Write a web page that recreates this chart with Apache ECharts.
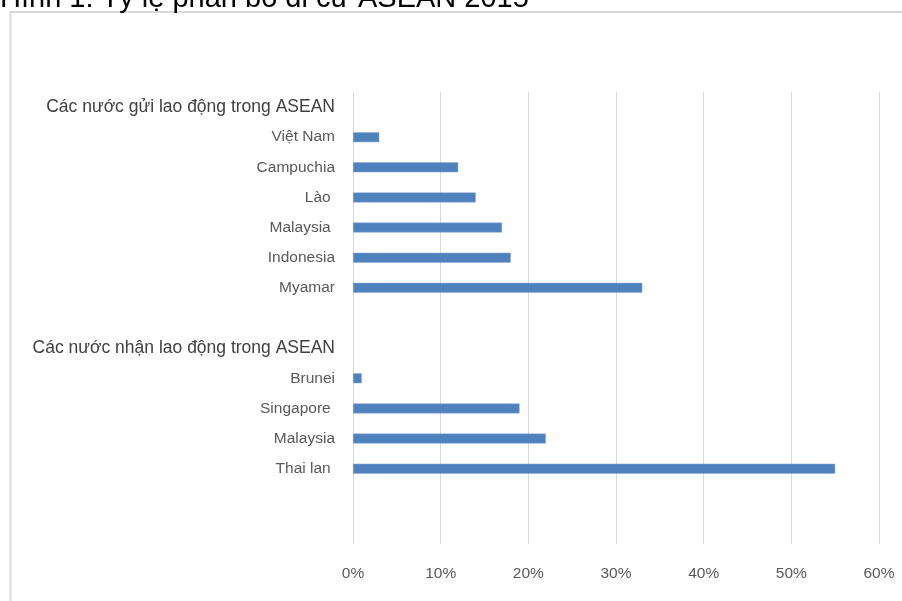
<!DOCTYPE html>
<html>
<head>
<meta charset="utf-8">
<script src="https://cdn.jsdelivr.net/npm/echarts@6/dist/echarts.min.js"></script>
<style>
html,body{margin:0;padding:0;background:#fff;}
#chart{width:902px;height:601px;}
</style>
</head>
<body>
<div id="chart"></div>
<script>
// Data
var titleText = "Hình 1: Tỷ lệ phân bổ di cư ASEAN 2015";
var sendingHeader = "Các nước gửi lao động trong ASEAN";
var sendingCountries = ["Việt Nam", "Campuchia", "Lào ", "Malaysia ", "Indonesia", "Myamar"];
var sendingValues = [3, 12, 14, 17, 18, 33];
var receivingHeader = "Các nước nhận lao động trong ASEAN";
var receivingCountries = ["Brunei", "Singapore ", "Malaysia", "Thai lan "];
var receivingValues = [1, 19, 22, 55];
var xTicks = [0, 10, 20, 30, 40, 50, 60];

// Build category list (headers and blank spacer rows have no bar)
var categories = [sendingHeader].concat(sendingCountries, [" ", receivingHeader], receivingCountries, ["  ", "   "]);
var values = [null].concat(sendingValues, [null, null], receivingValues, [null, null]);
var headers = [sendingHeader, receivingHeader];

var chart = echarts.init(document.getElementById('chart'));
chart.setOption({
  animation: false,
  backgroundColor: '#fff',
  graphic: [
    {
      type: 'rect', silent: true,
      shape: {x: 10.5, y: 12, width: 1000, height: 1000},
      style: {fill: 'none', stroke: '#d9d9d9', lineWidth: 2}
    },
    {
      type: 'text', silent: true, left: 0, top: -16,
      style: {text: titleText, fill: '#000', font: '29px "Liberation Sans", Arial, sans-serif'}
    }
  ],
  grid: {left: 353, right: 23, top: 92, bottom: 57, containLabel: false},
  xAxis: {
    type: 'value', min: xTicks[0], max: xTicks[xTicks.length - 1], interval: 10,
    axisLine: {show: false}, axisTick: {show: false},
    splitLine: {show: true, lineStyle: {color: '#d9d9d9', width: 1}},
    axisLabel: {
      formatter: '{value}%', color: '#595959', margin: 22,
      fontFamily: '"Liberation Sans", Arial, sans-serif', fontSize: 15.5
    }
  },
  yAxis: {
    type: 'category', inverse: true, data: categories,
    axisLine: {show: false}, axisTick: {show: false}, splitLine: {show: false},
    axisLabel: {
      margin: 18, interval: 0, color: '#595959',
      fontFamily: '"Liberation Sans", Arial, sans-serif', fontSize: 15.5,
      formatter: function (v) {
        if (headers.indexOf(v) >= 0) return '{h|' + v + '}';
        return v;
      },
      rich: {
        h: {fontFamily: '"Liberation Sans", Arial, sans-serif', fontSize: 17.5, color: '#404040'}
      }
    }
  },
  series: [{
    type: 'bar', data: values, barWidth: 10,
    itemStyle: {color: '#4f81bd', borderColor: '#8eaadb', borderWidth: 0.5}
  }]
});
</script>
</body>
</html>
